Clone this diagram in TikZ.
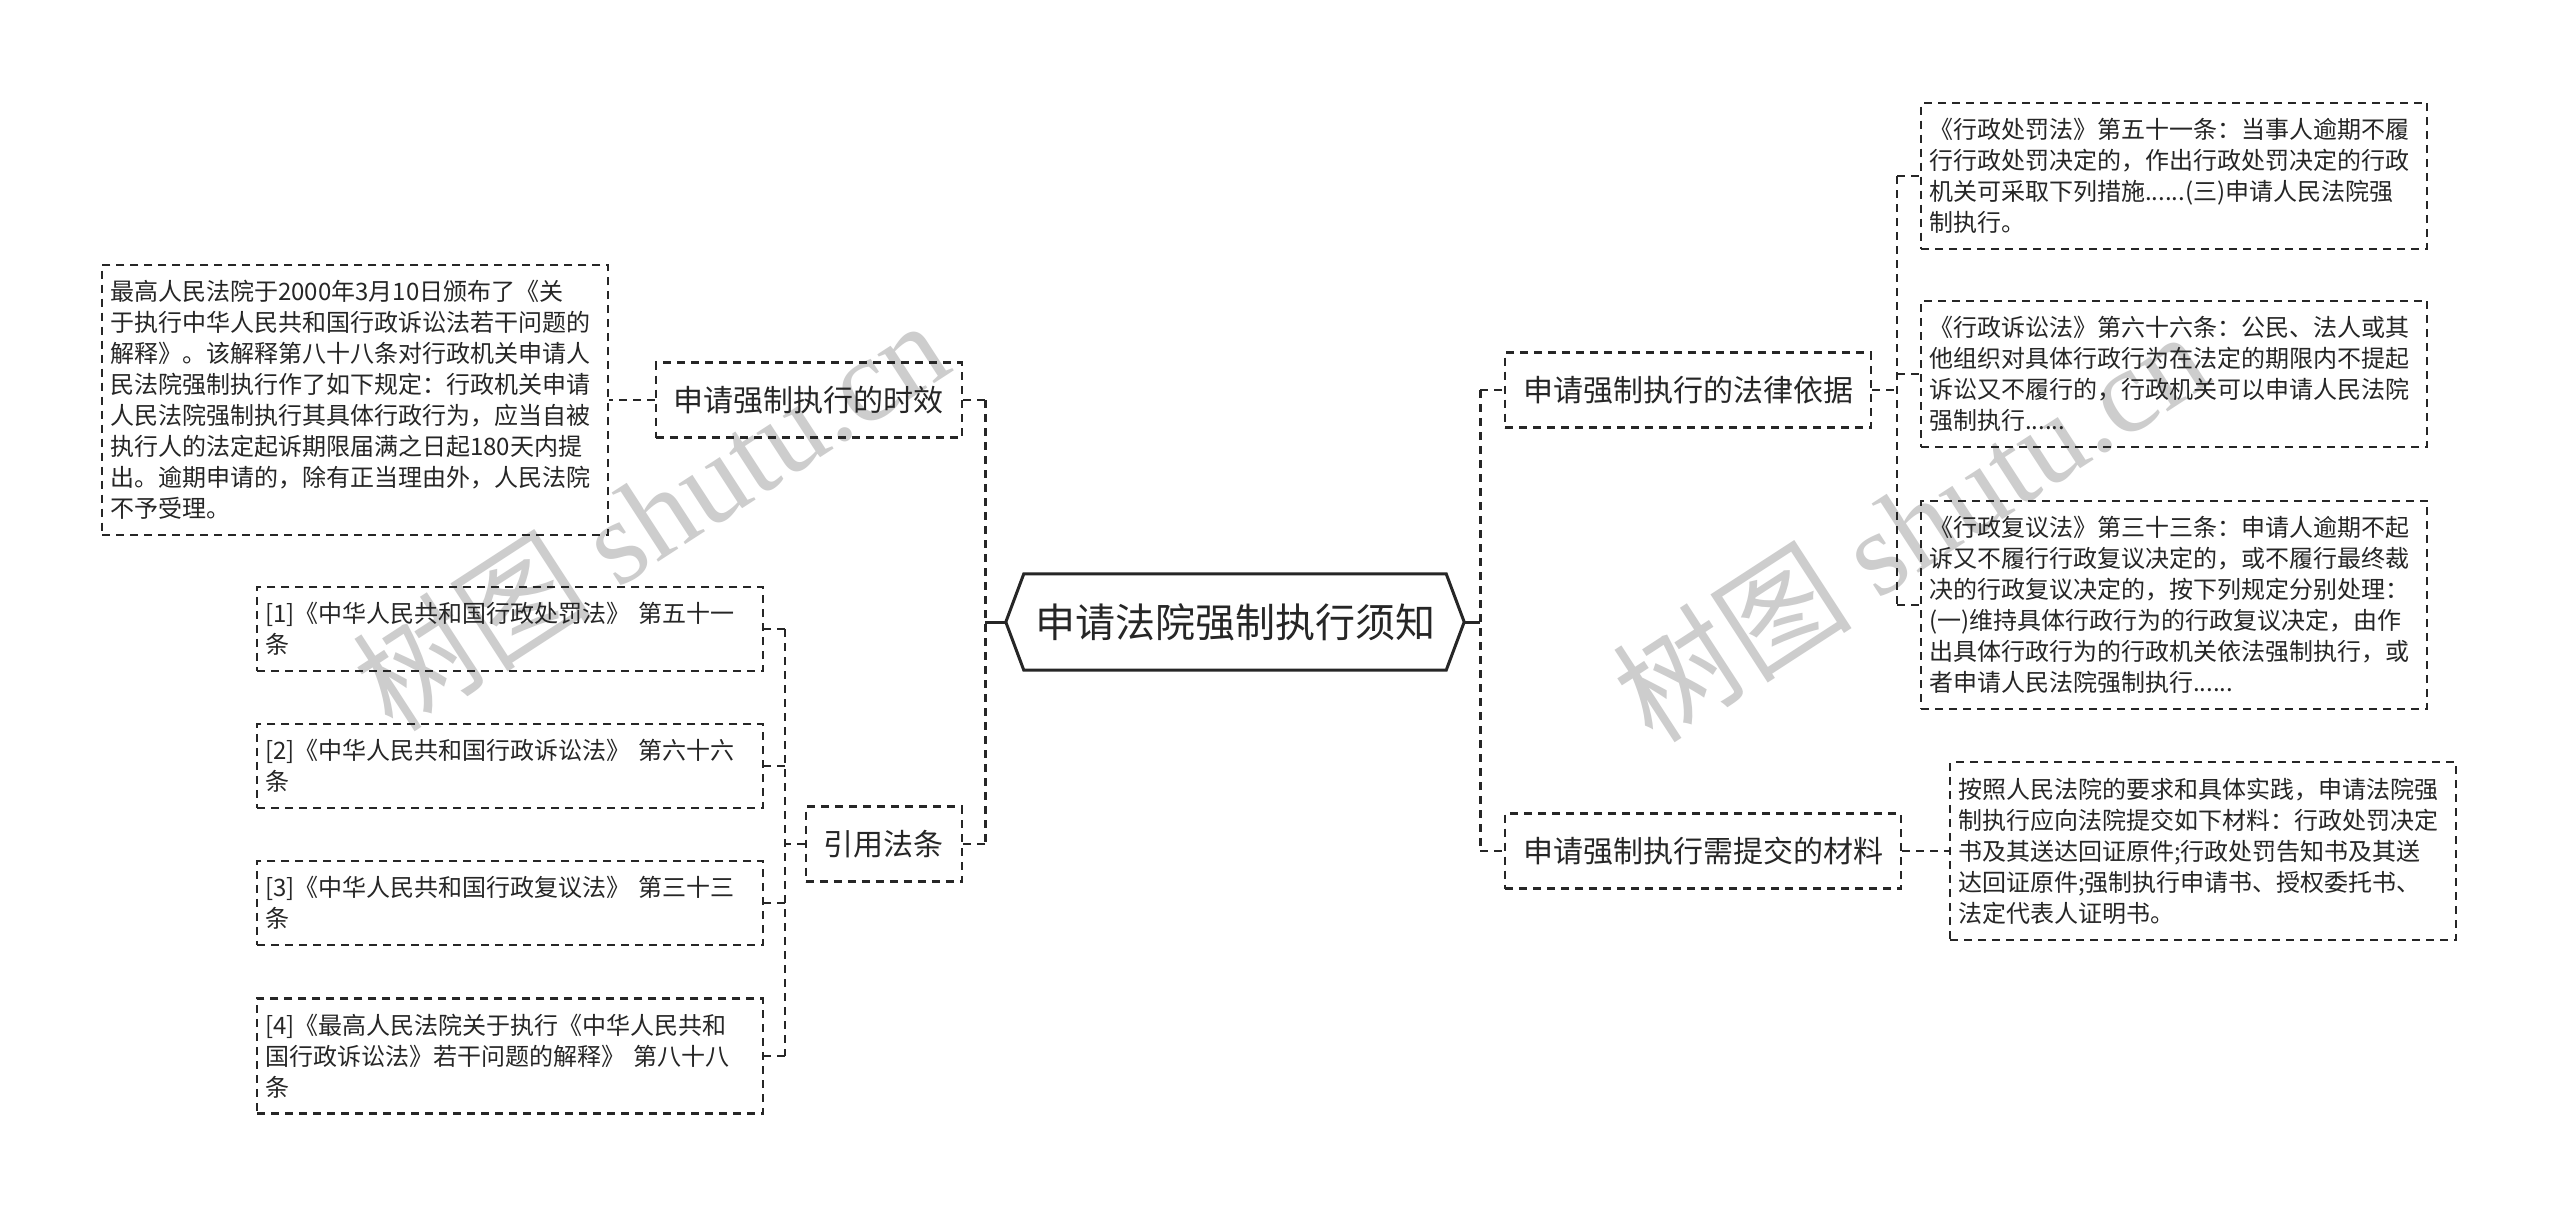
\documentclass[tikz,border=0pt]{standalone}
\usepackage{fontspec}
\setmainfont{Noto Sans CJK SC}
\newfontfamily\wmlatin{Liberation Serif}
\usetikzlibrary{calc}
\definecolor{ink}{HTML}{262626}
\definecolor{wmgray}{HTML}{CDCDCD}
\tikzset{
  conn/.style={draw=ink, line width=2.4pt, dash pattern=on 8pt off 6pt},
  trunk/.style={draw=ink, line width=3pt, dash pattern=on 8pt off 6pt},
  solidconn/.style={draw=ink, line width=3pt},
  lvone/.style={draw=ink, line width=2.4pt, dash pattern=on 8pt off 6pt, inner xsep=18pt, minimum height=75pt, font=\fontsize{30}{36}\selectfont, text=ink},
  leaf/.style={draw=ink, line width=2.4pt, dash pattern=on 8pt off 6pt, inner xsep=8pt, inner ysep=15.5pt, text width=490pt, align=left, font=\fontsize{24}{31}\selectfont, text=ink},
  rootnode/.style={minimum width=422pt, minimum height=96pt, font=\fontsize{40}{48}\selectfont, text=ink, inner sep=0pt},
  watermark/.style={rotate=33, text=wmgray, font=\fontsize{120}{120}\selectfont},
}
\begin{document}
\begin{tikzpicture}[x=1pt,y=-1pt]
\useasboundingbox[fill=white] (0,0) rectangle (2560,1219);

% watermarks
\node[watermark] (wmA) at (650,514) {树图 {\wmlatin shutu.cn}};
\node[watermark] (wmB) at (1910,525) {树图 {\wmlatin shutu.cn}};

% root
\node[rootnode] (root) at (1235,622) {申请法院强制执行须知};
\draw[ink, line width=3pt, line join=miter] (root.north west) -- (root.north east) -- ($(root.east)+(18,0)$) coordinate (rootR) -- (root.south east) -- (root.south west) -- ($(root.west)+(-18,0)$) coordinate (rootL) -- cycle;

% level one
\node[lvone, anchor=east] (timeliness) at (963,400) {申请强制执行的时效};
\node[lvone, anchor=east] (refs) at (963,844) {引用法条};
\node[lvone, anchor=west] (legal) at (1504,390) {申请强制执行的法律依据};
\node[lvone, anchor=west] (materials) at (1504,851) {申请强制执行需提交的材料};

% leaves left
\node[leaf, anchor=west] (lefttext) at (101,400) {最高人民法院于2000年3月10日颁布了《关\\于执行中华人民共和国行政诉讼法若干问题的\\解释》。该解释第八十八条对行政机关申请人\\民法院强制执行作了如下规定：行政机关申请\\人民法院强制执行其具体行政行为，应当自被\\执行人的法定起诉期限届满之日起180天内提\\出。逾期申请的，除有正当理由外，人民法院\\不予受理。};
\node[leaf, anchor=west] (r1) at (256,629) {[1]《中华人民共和国行政处罚法》~第五十一\\条};
\node[leaf, anchor=west] (r2) at (256,766) {[2]《中华人民共和国行政诉讼法》~第六十六\\条};
\node[leaf, anchor=west] (r3) at (256,903) {[3]《中华人民共和国行政复议法》~第三十三\\条};
\node[leaf, anchor=west] (r4) at (256,1056) {[4]《最高人民法院关于执行《中华人民共和\\国行政诉讼法》若干问题的解释》~第八十八\\条};

% leaves right
\node[leaf, anchor=west] (ra) at (1920,176) {《行政处罚法》第五十一条：当事人逾期不履\\行行政处罚决定的，作出行政处罚决定的行政\\机关可采取下列措施......(三)申请人民法院强\\制执行。};
\node[leaf, anchor=west] (rb) at (1920,374) {《行政诉讼法》第六十六条：公民、法人或其\\他组织对具体行政行为在法定的期限内不提起\\诉讼又不履行的，行政机关可以申请人民法院\\强制执行......};
\node[leaf, anchor=west] (rc) at (1920,605) {《行政复议法》第三十三条：申请人逾期不起\\诉又不履行行政复议决定的，或不履行最终裁\\决的行政复议决定的，按下列规定分别处理：\\(一)维持具体行政行为的行政复议决定，由作\\出具体行政行为的行政机关依法强制执行，或\\者申请人民法院强制执行......};
\node[leaf, anchor=west] (mat) at (1949,851) {按照人民法院的要求和具体实践，申请法院强\\制执行应向法院提交如下材料：行政处罚决定\\书及其送达回证原件;行政处罚告知书及其送\\达回证原件;强制执行申请书、授权委托书、\\法定代表人证明书。};

% trunks
\coordinate (lt) at (985,622);
\coordinate (rt) at (1480,622);
\draw[solidconn] (rootL) -- (lt);
\draw[solidconn] (rootR) -- (rt);
\draw[trunk] (lt |- timeliness.east) -- (lt |- refs.east);
\draw[trunk] (rt |- legal.west) -- (rt |- materials.west);
\draw[conn] (lt |- timeliness.east) -- (timeliness.east);
\draw[conn] (lt |- refs.east) -- (refs.east);
\draw[conn] (rt |- legal.west) -- (legal.west);
\draw[conn] (rt |- materials.west) -- (materials.west);

% left branches
\draw[conn] (timeliness.west) -- (lefttext.east);
\coordinate (rv) at (785,844);
\draw[conn] (refs.west) -- (rv);
\draw[conn] (rv |- r1.east) -- (rv |- r4.east);
\foreach \n in {r1,r2,r3,r4} \draw[conn] (rv |- \n.east) -- (\n.east);

% right branches
\coordinate (lv) at (1897,390);
\draw[conn] (legal.east) -- (lv);
\draw[conn] (lv |- ra.west) -- (lv |- rc.west);
\foreach \n in {ra,rb,rc} \draw[conn] (lv |- \n.west) -- (\n.west);
\draw[conn] (materials.east) -- (mat.west);
\end{tikzpicture}
\end{document}
